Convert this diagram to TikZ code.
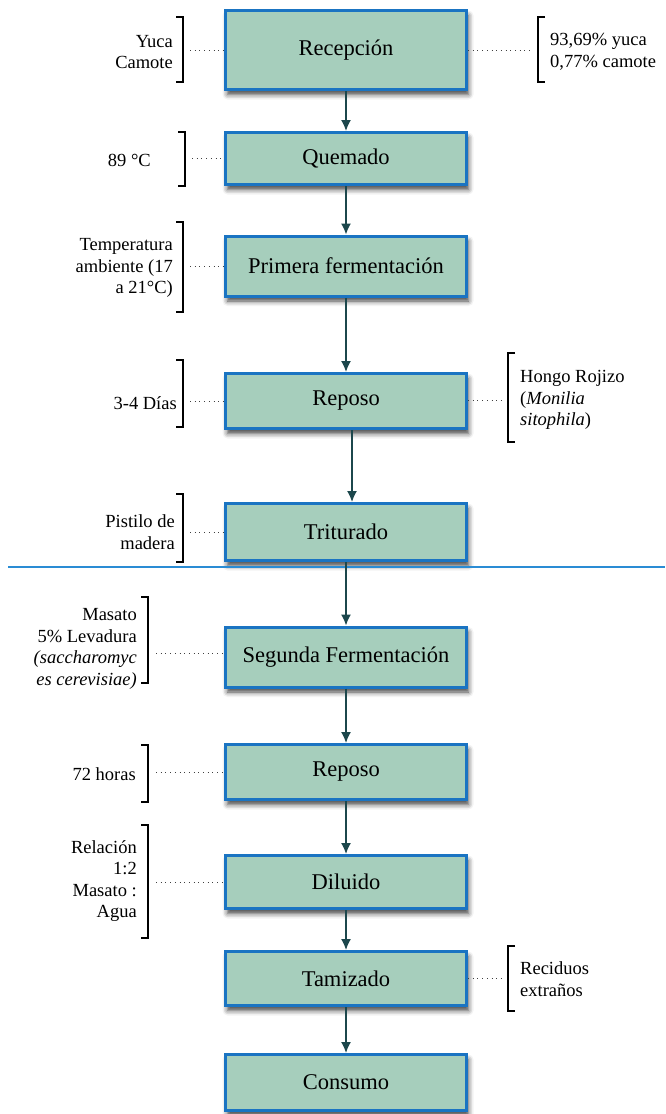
\documentclass[tikz,border=0pt]{standalone}
\usepackage{fontspec}
\setmainfont{Liberation Serif}
\usetikzlibrary{arrows.meta,shadows.blur}
\definecolor{boxfill}{HTML}{A6CEBC}
\definecolor{boxline}{HTML}{1A74C2}
\definecolor{arrcol}{HTML}{1C474C}
\definecolor{sepline}{HTML}{2A8CD4}
\tikzset{
  stepbox/.style={draw=boxline, line width=3pt, fill=boxfill, minimum width=241pt,
    inner sep=0pt, font=\fontsize{22.5}{26}\selectfont,
    blur shadow={shadow xshift=2pt, shadow yshift=-5pt, shadow blur radius=5pt, shadow opacity=75}},
  flow/.style={draw=arrcol, line width=1.6pt, -{Latex[length=11pt,width=10pt]}},
  dots/.style={draw=black!75, line width=0.7pt, dash pattern=on 0.7pt off 4pt},
  brk/.style={draw=black, line width=1.2pt},
  lnote/.style={font=\fontsize{18.5}{21.5}\selectfont, align=right, inner sep=0pt, anchor=east},
  rnote/.style={font=\fontsize{18.5}{21.5}\selectfont, align=left, inner sep=0pt, anchor=west},
}
\begin{document}
\begin{tikzpicture}[x=1pt,y=-1pt]
\useasboundingbox (0,0) rectangle (665,1114);
% boxes
\node[stepbox, minimum height=79pt] (b1) at (346,50) {Recepción};
\node[stepbox, minimum height=52pt] (b2) at (346,158.5) {Quemado};
\node[stepbox, minimum height=60pt] (b3) at (346,266) {Primera fermentación};
\node[stepbox, minimum height=55pt] (b4) at (346,401) {Reposo};
\node[stepbox, minimum height=57pt] (b5) at (346,532) {Triturado};
\node[stepbox, minimum height=60pt] (b6) at (346,657) {Segunda Fermentación};
\node[stepbox, minimum height=55pt] (b7) at (346,772) {Reposo};
\node[stepbox, minimum height=53pt] (b8) at (346,882) {Diluido};
\node[stepbox, minimum height=54pt] (b9) at (346,978.5) {Tamizado};
\node[stepbox, minimum height=56pt] (b10) at (346,1082.5) {Consumo};
% separator
\coordinate (sl) at (8,567);
\coordinate (sr) at (665,567);
\draw[sepline, line width=2pt] (sl) -- (sr);
% arrows
\draw[flow] (b1) -- (b2);
\draw[flow] (b2) -- (b3);
\draw[flow] (b3) -- (b4);
\draw[flow] ([xshift=6pt]b4.south) -- ([xshift=6pt]b5.north);
\draw[flow] (b5) -- (b6);
\draw[flow] (b6) -- (b7);
\draw[flow] (b7) -- (b8);
\draw[flow] (b8) -- (b9);
\draw[flow] (b9) -- (b10);
% left notes
\node[lnote] (n1) at (173,52) {Yuca\\Camote};
\node[lnote] (n2) at (151,160) {89 °C};
\node[lnote] (n3) at (173,268) {Temperatura\\ambiente (17\\a 21°C)};
\node[lnote] (n4) at (177,403) {3-4 Días};
\node[lnote] (n5) at (175,532) {Pistilo de\\madera};
\node[lnote] (n6) at (137,649) {Masato\\5\% Levadura\\\textit{(saccharomyc}\\\textit{es cerevisiae)}};
\node[lnote] (n7) at (136,774) {72 horas};
\node[lnote] (n8) at (137,881) {Relación\\1:2\\Masato :\\Agua};
% right notes
\node[rnote] (r1) at (550,52) {93,69\% yuca\\0,77\% camote};
\node[rnote] (r2) at (520,400) {Hongo Rojizo\\(\textit{Monilia}\\\textit{sitophila})};
\node[rnote] (r3) at (520,979) {Reciduos\\extraños};
% brackets (left)
\draw[brk] (176,17) -- (183,17) -- (183,82) -- (176,82);
\draw[brk] (178,132) -- (185,132) -- (185,186) -- (178,186);
\draw[brk] (176,222) -- (183,222) -- (183,312) -- (176,312);
\draw[brk] (176,360) -- (183,360) -- (183,427) -- (176,427);
\draw[brk] (176,494) -- (183,494) -- (183,562) -- (176,562);
\draw[brk] (141,597) -- (148,597) -- (148,683) -- (141,683);
\draw[brk] (141,745) -- (148,745) -- (148,802) -- (141,802);
\draw[brk] (141,825) -- (148,825) -- (148,938) -- (141,938);
% brackets (right)
\draw[brk] (545,17) -- (538,17) -- (538,82) -- (545,82);
\draw[brk] (515,353) -- (508,353) -- (508,442) -- (515,442);
\draw[brk] (515,946) -- (508,946) -- (508,1011) -- (515,1011);
% dotted links
\coordinate (d1) at (190,50);
\coordinate (d2) at (192,158.5);
\coordinate (d3) at (190,266);
\coordinate (d4) at (190,401);
\coordinate (d5) at (190,532);
\coordinate (d6) at (156,653);
\coordinate (d7) at (156,772);
\coordinate (d8) at (156,882);
\coordinate (e1) at (533,50);
\coordinate (e2) at (503,400);
\coordinate (e3) at (503,978.5);
\draw[dots] (d1) -- (b1.west |- d1);
\draw[dots] (d2) -- (b2.west |- d2);
\draw[dots] (d3) -- (b3.west |- d3);
\draw[dots] (d4) -- (b4.west |- d4);
\draw[dots] (d5) -- (b5.west |- d5);
\draw[dots] (d6) -- (b6.west |- d6);
\draw[dots] (d7) -- (b7.west |- d7);
\draw[dots] (d8) -- (b8.west |- d8);
\draw[dots] (b1.east |- e1) -- (e1);
\draw[dots] (b4.east |- e2) -- (e2);
\draw[dots] (b9.east |- e3) -- (e3);
\end{tikzpicture}
\end{document}
